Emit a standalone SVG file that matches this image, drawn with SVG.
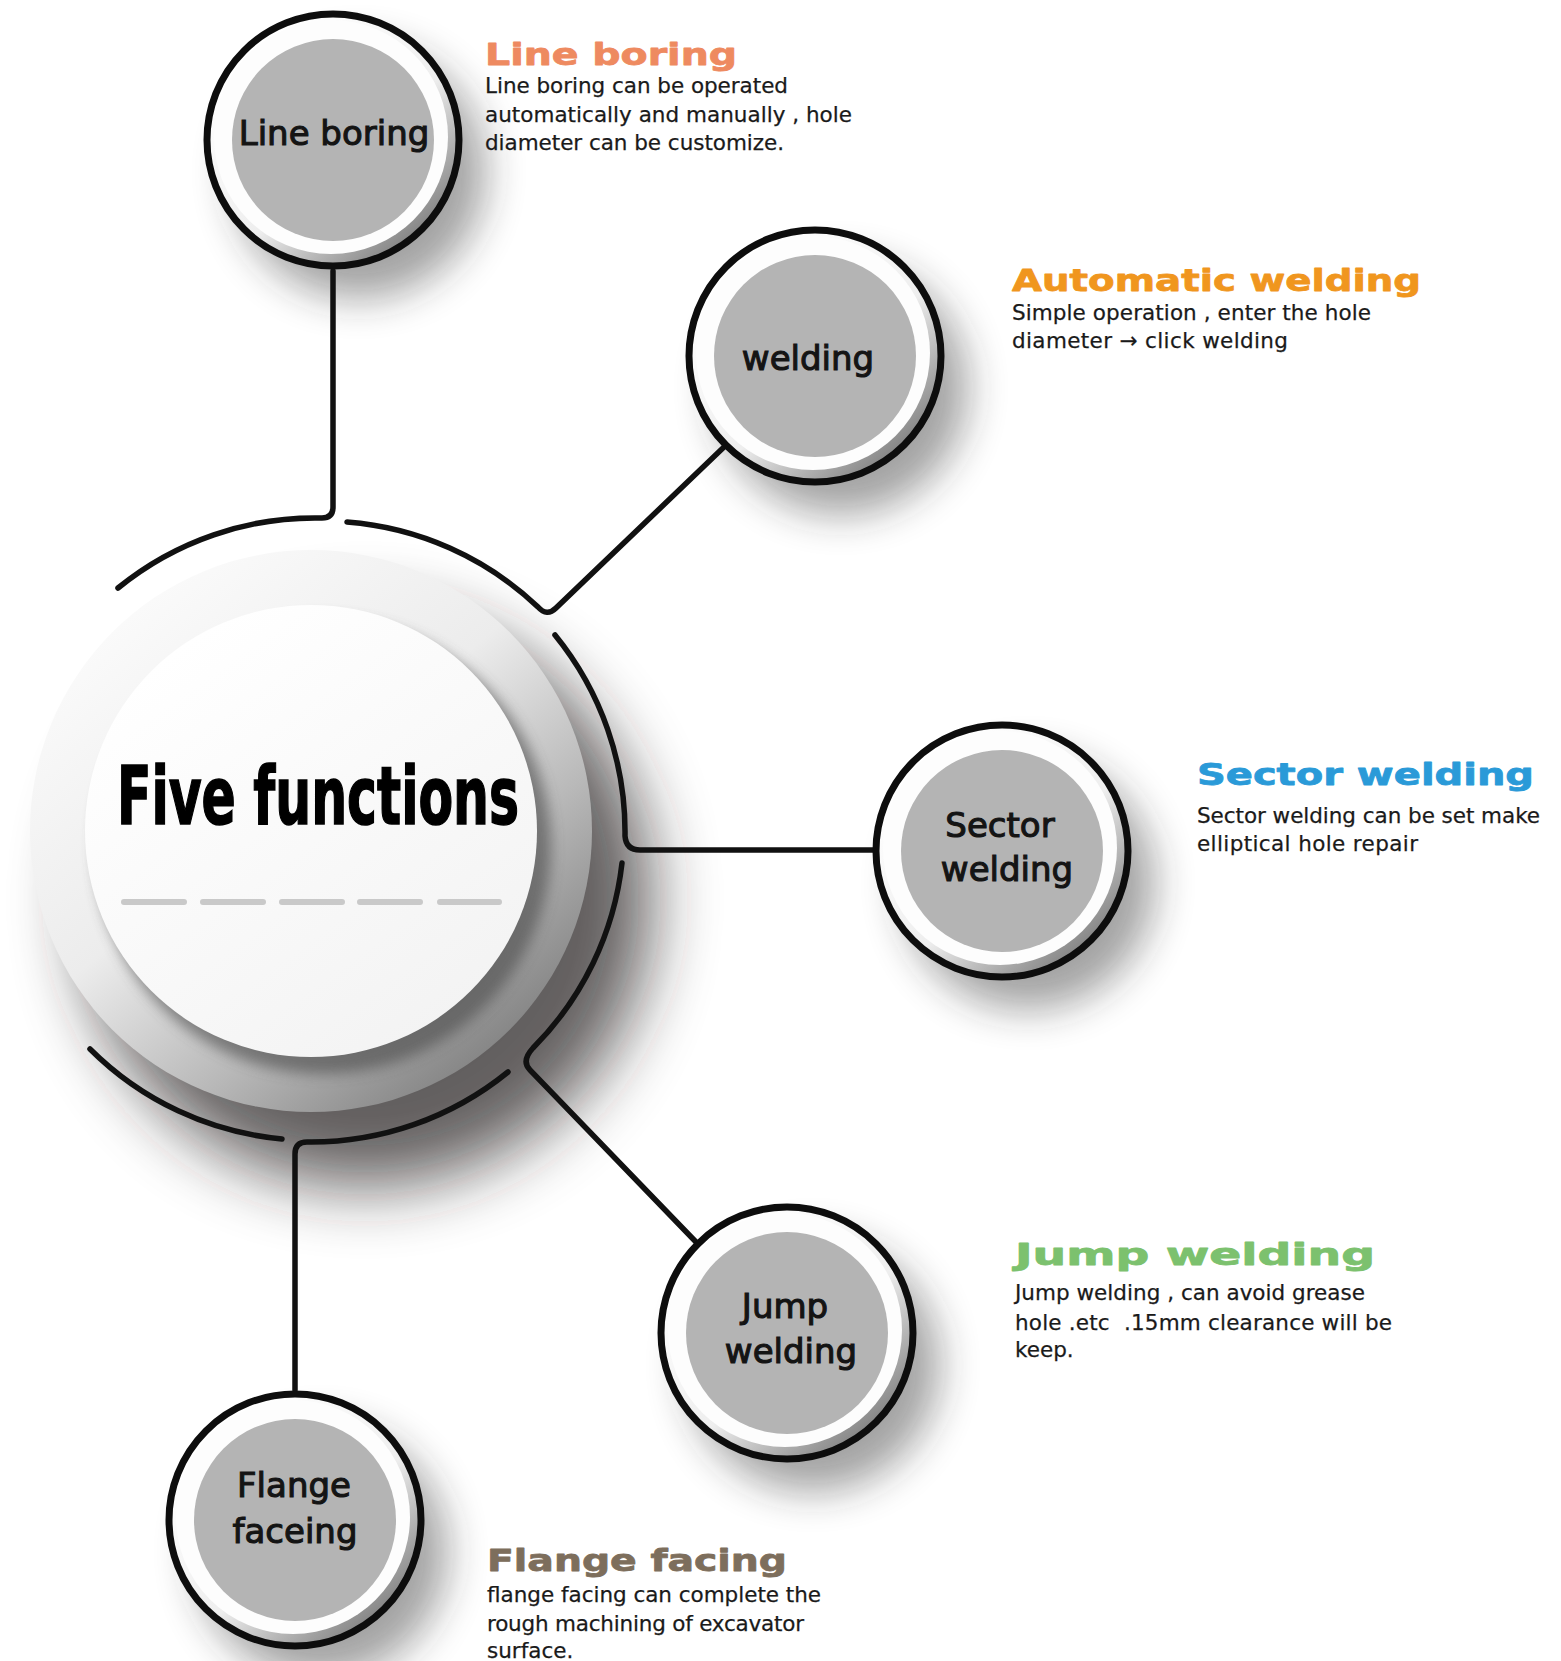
<svg xmlns="http://www.w3.org/2000/svg" width="1561" height="1661" viewBox="0 0 1561 1661">
  <style>
    .conn { fill: none; stroke: #111; stroke-width: 5.5; stroke-linecap: round; stroke-linejoin: round; }
    .ring { fill: url(#ringGrad); stroke: #0d0d0d; stroke-width: 7; }
    .wdisc { fill: #fdfdfd; }
    .gdisc { fill: #b4b4b4; }
    .nshadow { fill: #202020; opacity: 0.42; filter: url(#blurL); }
    .nlabel { font-family: "DejaVu Sans", "Liberation Sans", sans-serif; font-size: 34px; fill: #141414; stroke: #141414; stroke-width: 1.1; text-anchor: middle; }
    .title { font-family: "DejaVu Sans", "Liberation Sans", sans-serif; font-weight: bold; font-size: 31px; stroke-width: 0.8; stroke-linejoin: round; }
    .body { font-family: "DejaVu Sans", "Liberation Sans", sans-serif; font-size: 21.5px; fill: #1a1a1a; stroke: #1a1a1a; stroke-width: 0.25; white-space: pre; }
    .dash { stroke: #c9c9c9; stroke-width: 6; stroke-linecap: round; }
  </style>
  <defs>
    <filter id="blurL" x="-60%" y="-60%" width="220%" height="220%"><feGaussianBlur stdDeviation="20"/></filter>
    <filter id="blurXL" x="-60%" y="-60%" width="220%" height="220%"><feGaussianBlur stdDeviation="34"/></filter>
    <filter id="blurS" x="-20%" y="-20%" width="140%" height="140%"><feGaussianBlur stdDeviation="7"/></filter>
    <linearGradient id="ringGrad" x1="0.2" y1="0.15" x2="0.85" y2="0.9">
      <stop offset="0" stop-color="#ffffff"/>
      <stop offset="0.55" stop-color="#eeeeee"/>
      <stop offset="1" stop-color="#7d7d7d"/>
    </linearGradient>
    <linearGradient id="outerGrad" x1="0.15" y1="0.1" x2="0.85" y2="0.95">
      <stop offset="0" stop-color="#fbfbfb"/>
      <stop offset="0.42" stop-color="#ececec"/>
      <stop offset="0.7" stop-color="#b8b8b8"/>
      <stop offset="1" stop-color="#7a7a7a"/>
    </linearGradient>
    <linearGradient id="innerGrad" x1="0.2" y1="0.1" x2="0.8" y2="0.95">
      <stop offset="0" stop-color="#ffffff"/>
      <stop offset="1" stop-color="#f3f3f3"/>
    </linearGradient>
  </defs>

  <rect x="0" y="0" width="1561" height="1661" fill="#ffffff"/>

  <g id="shadows">
    <circle cx="365" cy="900" r="285" fill="#262020" opacity="0.72" filter="url(#blurXL)"/>
    <circle class="nshadow" cx="359" cy="172" r="126"/>
    <circle class="nshadow" cx="841" cy="388" r="126"/>
    <circle class="nshadow" cx="1028" cy="883" r="126"/>
    <circle class="nshadow" cx="813" cy="1365" r="126"/>
    <circle class="nshadow" cx="321" cy="1552" r="126"/>
  </g>

  <g id="node-center">
    <circle cx="311" cy="831" r="281" fill="url(#outerGrad)"/>
    <circle cx="323" cy="846" r="228" fill="#4a4a4a" opacity="0.6" filter="url(#blurS)"/>
    <circle cx="311" cy="831" r="226" fill="url(#innerGrad)"/>
    <text x="117" y="824" font-family="'DejaVu Sans Condensed', 'DejaVu Sans', sans-serif" font-weight="bold" font-size="80" fill="#000" stroke="#000" stroke-width="1.5" textLength="402" lengthAdjust="spacingAndGlyphs">Five functions</text>
    <line class="dash" x1="124" y1="902" x2="184" y2="902"/>
    <line class="dash" x1="203" y1="902" x2="263" y2="902"/>
    <line class="dash" x1="282" y1="902" x2="342" y2="902"/>
    <line class="dash" x1="360" y1="902" x2="420" y2="902"/>
    <line class="dash" x1="440" y1="902" x2="499" y2="902"/>
  </g>

  <g id="connectors">
    <path class="conn" d="M 118 588 A 312 312 0 0 1 322 518 Q 333 518 333 507 L 333 271"/>
    <path class="conn" d="M 347 522 A 312 312 0 0 1 538 607 Q 547 617 556 608 L 724 447"/>
    <path class="conn" d="M 555 635 A 312 312 0 0 1 625 836 Q 626 850 640 850 L 873 850"/>
    <path class="conn" d="M 622 863 A 312 312 0 0 1 533 1048 Q 521 1061 530 1070 L 696 1242"/>
    <path class="conn" d="M 508 1072 A 312 312 0 0 1 307 1142 Q 295 1142 295 1154 L 295 1390"/>
    <path class="conn" d="M 282 1139 A 312 312 0 0 1 90 1049"/>
  </g>

  <g id="node-line-boring">
    <g transform="translate(333,140)">
      <circle class="ring" r="126"/>
      <circle class="wdisc" cx="-2" cy="-3" r="117"/>
      <circle class="gdisc" r="101"/>
    </g>
    <text class="nlabel" x="334" y="145" font-size="35">Line boring</text>
    <text class="title" x="485" y="65" fill="#ee8a60" stroke="#ee8a60" textLength="252" lengthAdjust="spacingAndGlyphs">Line boring</text>
    <text class="body" x="485" y="93" textLength="303" lengthAdjust="spacing">Line boring can be operated</text>
    <text class="body" x="485" y="122" textLength="367" lengthAdjust="spacing">automatically and manually , hole</text>
    <text class="body" x="485" y="150" textLength="299" lengthAdjust="spacing">diameter can be customize.</text>
  </g>

  <g id="node-welding">
    <g transform="translate(815,356)">
      <circle class="ring" r="126"/>
      <circle class="wdisc" cx="-2" cy="-3" r="117"/>
      <circle class="gdisc" r="101"/>
    </g>
    <text class="nlabel" x="808" y="370">welding</text>
    <text class="title" x="1012" y="291" fill="#f0961e" stroke="#f0961e" textLength="409" lengthAdjust="spacingAndGlyphs">Automatic welding</text>
    <text class="body" x="1012" y="320" textLength="359" lengthAdjust="spacing">Simple operation , enter the hole</text>
    <text class="body" x="1012" y="348" textLength="276" lengthAdjust="spacing">diameter → click welding</text>
  </g>

  <g id="node-sector-welding">
    <g transform="translate(1002,851)">
      <circle class="ring" r="126"/>
      <circle class="wdisc" cx="-2" cy="-3" r="117"/>
      <circle class="gdisc" r="101"/>
    </g>
    <text class="nlabel" x="1000" y="837">Sector</text>
    <text class="nlabel" x="1007" y="881">welding</text>
    <text class="title" x="1197" y="785" fill="#2a9ad8" stroke="#2a9ad8" textLength="337" lengthAdjust="spacingAndGlyphs">Sector welding</text>
    <text class="body" x="1197" y="823" textLength="343" lengthAdjust="spacing">Sector welding can be set make</text>
    <text class="body" x="1197" y="851" textLength="221" lengthAdjust="spacing">elliptical hole repair</text>
  </g>

  <g id="node-jump-welding">
    <g transform="translate(787,1333)">
      <circle class="ring" r="126"/>
      <circle class="wdisc" cx="-2" cy="-3" r="117"/>
      <circle class="gdisc" r="101"/>
    </g>
    <text class="nlabel" x="785" y="1318">Jump</text>
    <text class="nlabel" x="791" y="1363">welding</text>
    <text class="title" x="1015" y="1265" fill="#7cc16e" stroke="#7cc16e" font-size="34" textLength="360" lengthAdjust="spacingAndGlyphs">Jump welding</text>
    <text class="body" x="1015" y="1300" textLength="350" lengthAdjust="spacing">Jump welding , can avoid grease</text>
    <text class="body" x="1015" y="1330" textLength="377" lengthAdjust="spacing">hole .etc  .15mm clearance will be</text>
    <text class="body" x="1015" y="1357">keep.</text>
  </g>

  <g id="node-flange-faceing">
    <g transform="translate(295,1520)">
      <circle class="ring" r="126"/>
      <circle class="wdisc" cx="-2" cy="-3" r="117"/>
      <circle class="gdisc" r="101"/>
    </g>
    <text class="nlabel" x="294" y="1497">Flange</text>
    <text class="nlabel" x="295" y="1543">faceing</text>
    <text class="title" x="487" y="1571" fill="#7d6e5c" stroke="#7d6e5c" textLength="300" lengthAdjust="spacingAndGlyphs">Flange facing</text>
    <text class="body" x="487" y="1602" textLength="334" lengthAdjust="spacing">flange facing can complete the</text>
    <text class="body" x="487" y="1631" textLength="317" lengthAdjust="spacing">rough machining of excavator</text>
    <text class="body" x="487" y="1658">surface.</text>
  </g>
</svg>
